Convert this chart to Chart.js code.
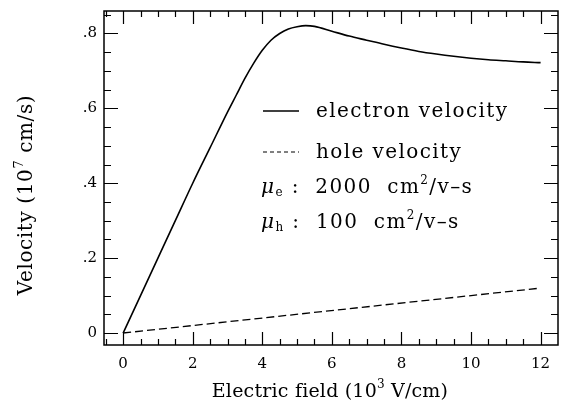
<!DOCTYPE html>
<html>
<head>
<meta charset="utf-8">
<title>Electron and hole velocity</title>
<script src="https://cdn.jsdelivr.net/npm/chart.js@4.4.1/dist/chart.umd.min.js"></script>
<style>
  html, body { margin: 0; padding: 0; background: #fff; }
  #chart { display: block; }
</style>
</head>
<body>
<canvas id="chart" width="561" height="407"></canvas>
<script>
// electric field, 10^3 V/cm
var fieldE = [0, 0.5, 1, 1.5, 2, 2.5, 3, 3.25, 3.5, 3.75, 4, 4.25, 4.5, 4.75, 5, 5.25, 5.5, 6, 6.5, 7, 7.5, 8, 8.5, 9, 9.5, 10, 10.5, 11, 11.5, 12];
// electron drift velocity, 10^7 cm/s
var electronV = [0, 0.1, 0.2, 0.3, 0.4, 0.495, 0.59, 0.635, 0.68, 0.72, 0.755, 0.782, 0.8, 0.812, 0.818, 0.821, 0.819, 0.806, 0.793, 0.782, 0.771, 0.761, 0.752, 0.745, 0.739, 0.734, 0.73, 0.727, 0.724, 0.722];
var fieldH = [0, 12];
var holeV = [0, 0.12];

var xTicks = [0, 2, 4, 6, 8, 10, 12];
var yTicks = [0, 0.2, 0.4, 0.6, 0.8];
var yTickLabels = ['0', '.2', '.4', '.6', '.8'];

var serif = '"DejaVu Serif", "Liberation Serif", serif';

function toPoints(xs, ys) {
    return xs.map(function (x, i) { return { x: x, y: ys[i] }; });
}

// box with inward ticks on all four sides, minor ticks every 0.5 / 0.05
var frameTicks = {
    id: 'frameTicks',
    afterDraw: function (chart) {
        var ctx = chart.ctx, a = chart.chartArea;
        var xs = chart.scales.x, ys = chart.scales.y;
        ctx.save();
        ctx.strokeStyle = '#000';
        ctx.lineWidth = 1.5;
        ctx.strokeRect(a.left, a.top, a.right - a.left, a.bottom - a.top);
        ctx.lineWidth = 1.2;
        ctx.beginPath();
        var i, v, p, len;
        for (i = -2; i <= 26; i++) {
            v = i * 0.5;
            if (v <= xs.min || v >= xs.max) continue;
            p = Math.round(xs.getPixelForValue(v)) + 0.5;
            len = (i % 4 === 0) ? 13 : 6;
            ctx.moveTo(p, a.bottom); ctx.lineTo(p, a.bottom - len);
            ctx.moveTo(p, a.top); ctx.lineTo(p, a.top + len);
        }
        for (i = 0; i <= 18; i++) {
            v = i * 0.05;
            if (v < ys.min || v >= ys.max) continue;
            p = Math.round(ys.getPixelForValue(v)) + 0.5;
            len = (i % 4 === 0) ? 14 : 7;
            ctx.moveTo(a.left, p); ctx.lineTo(a.left + len, p);
            ctx.moveTo(a.right, p); ctx.lineTo(a.right - len, p);
        }
        ctx.stroke();
        ctx.restore();
    }
};

// draw a run of text pieces: [text, size, dy, italic]
function drawRun(ctx, x, y, pieces) {
    pieces.forEach(function (pc) {
        ctx.font = (pc[3] ? 'italic ' : '') + pc[1] + 'px ' + serif;
        ctx.fillText(pc[0], x, y + pc[2]);
        x += ctx.measureText(pc[0]).width;
    });
    return x;
}

function runWidth(ctx, pieces) {
    var w = 0;
    pieces.forEach(function (pc) {
        ctx.font = (pc[3] ? 'italic ' : '') + pc[1] + 'px ' + serif;
        w += ctx.measureText(pc[0]).width;
    });
    return w;
}

// key, mobility notes and axis titles
var notes = {
    id: 'notes',
    afterDraw: function (chart) {
        var ctx = chart.ctx, a = chart.chartArea;
        var lx = a.left + 159, tx = a.left + 212;
        ctx.save();
        ctx.fillStyle = '#000';
        ctx.strokeStyle = '#000';
        ctx.textBaseline = 'alphabetic';
        ctx.lineWidth = 1.3;

        ctx.beginPath();
        ctx.moveTo(lx, 111); ctx.lineTo(lx + 36, 111);
        ctx.stroke();
        ctx.setLineDash([4, 3]);
        ctx.lineWidth = 1;
        ctx.beginPath();
        ctx.moveTo(lx, 152); ctx.lineTo(lx + 36, 152);
        ctx.stroke();
        ctx.setLineDash([]);

        ctx.letterSpacing = '1.4px';
        drawRun(ctx, tx, 117, [['electron velocity', 20, 0]]);
        drawRun(ctx, tx, 158, [['hole velocity', 20, 0]]);
        drawRun(ctx, lx - 2, 193, [['\u03bc', 20, 0, true], ['e', 12, 3], [' :  2000  cm', 20, 0], ['2', 12, -9], ['/v\u2013s', 20, 0]]);
        drawRun(ctx, lx - 2, 228, [['\u03bc', 20, 0, true], ['h', 12, 3], [' :  100  cm', 20, 0], ['2', 12, -9], ['/v\u2013s', 20, 0]]);

        // axis titles
        ctx.letterSpacing = '0.2px';
        var xt = [['Electric field (10', 19, 0], ['3', 12, -9], [' V/cm)', 19, 0]];
        drawRun(ctx, 330 - runWidth(ctx, xt) / 2, 397, xt);

        ctx.letterSpacing = '0.6px';
        var yt = [['Velocity (10', 20, 0], ['7', 13, -9], [' cm/s)', 20, 0]];
        ctx.translate(32, 195);
        ctx.rotate(-Math.PI / 2);
        drawRun(ctx, -runWidth(ctx, yt) / 2, 0, yt);
        ctx.restore();
    }
};

var ctx = document.getElementById('chart').getContext('2d');
var chart = new Chart(ctx, {
    type: 'line',
    data: {
        datasets: [{
            label: 'electron velocity',
            data: toPoints(fieldE, electronV),
            borderColor: '#000',
            borderWidth: 1.6,
            pointRadius: 0,
            cubicInterpolationMode: 'monotone',
            fill: false
        }, {
            label: 'hole velocity',
            data: toPoints(fieldH, holeV),
            borderColor: '#000',
            borderWidth: 1.3,
            borderDash: [8, 4],
            pointRadius: 0,
            fill: false
        }]
    },
    options: {
        responsive: false,
        animation: false,
        events: [],
        layout: { padding: { top: 11, right: 3, left: 0, bottom: 0 } },
        plugins: {
            legend: { display: false },
            tooltip: { enabled: false }
        },
        scales: {
            x: {
                type: 'linear',
                min: -0.55,
                max: 12.5,
                afterBuildTicks: function (scale) {
                    scale.ticks = xTicks.map(function (v) { return { value: v }; });
                },
                afterFit: function (scale) {
                    scale.height = 62;
                    scale.paddingLeft = 0;
                    scale.paddingRight = 0;
                },
                grid: { display: false, drawTicks: false },
                border: { display: false },
                ticks: {
                    color: '#000',
                    padding: 10,
                    maxRotation: 0,
                    font: { family: serif, size: 15 }
                }
            },
            y: {
                type: 'linear',
                min: -0.032,
                max: 0.86,
                afterBuildTicks: function (scale) {
                    scale.ticks = yTicks.map(function (v) { return { value: v }; });
                },
                afterFit: function (scale) {
                    scale.width = 104;
                    scale.paddingTop = 0;
                    scale.paddingBottom = 0;
                },
                grid: { display: false, drawTicks: false },
                border: { display: false },
                ticks: {
                    color: '#000',
                    padding: 7,
                    font: { family: serif, size: 15 },
                    callback: function (value) {
                        var k = yTicks.indexOf(value);
                        return k >= 0 ? yTickLabels[k] : '';
                    }
                }
            }
        }
    },
    plugins: [frameTicks, notes]
});
</script>
</body>
</html>
